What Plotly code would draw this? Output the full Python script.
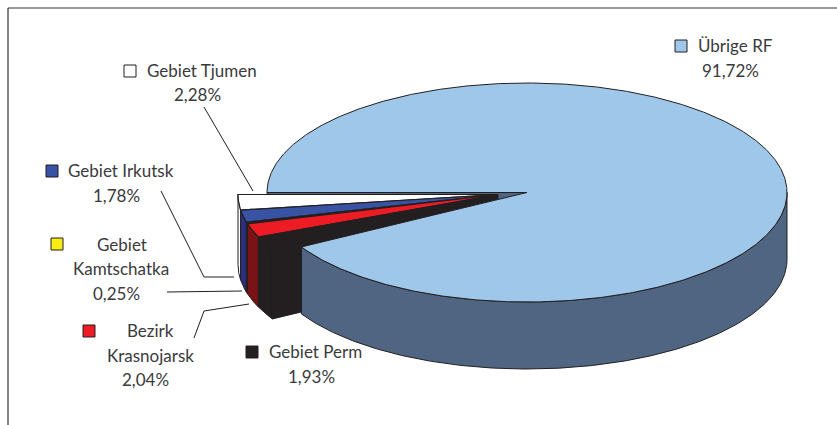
import numpy as np
import plotly.graph_objects as go

# Data (clockwise from the west edge of the pie)
regions = ["Übrige RF", "Gebiet Perm", "Bezirk Krasnojarsk", "Gebiet Kamtschatka", "Gebiet Irkutsk", "Gebiet Tjumen"]
shares = [91.72, 1.93, 2.04, 0.25, 1.78, 2.28]
share_labels = ["91,72%", "1,93%", "2,04%", "0,25%", "1,78%", "2,28%"]

# Styles
top_colors = ["#9FC7EA", "#231F20", "#ED1C24", "#F7EC13", "#3953A4", "#FFFFFF"]
side_colors = ["#4F6582", "#231F20", "#7A1315", "#7C7609", "#2A2F7E", "#FFFFFF"]
edge = "#231F20"
text_color = "#3A3A3C"
font = "Lato"
font_size = 17

# Geometry of the tilted pie, in page pixels
CX, CY, RX, RY, DEPTH = 527, 192.5, 260, 109.5, 67
EXPLODE_DX, EXPLODE_DY, EXPLODE_DEPTH = -29, 2, 70

# Label layout: (marker x, marker y, [(text, x centre, y centre), ...])
label_layout = {
    "Übrige RF": (681, 46, [("Übrige RF", 735, 46), ("{}", 730, 71)]),
    "Gebiet Tjumen": (130, 71, [("Gebiet Tjumen", 202, 71), ("{}", 197, 95)]),
    "Gebiet Irkutsk": (52, 171, [("Gebiet Irkutsk", 121, 171), ("{}", 116, 196)]),
    "Gebiet Kamtschatka": (57, 244, [("Gebiet", 122, 245), ("Kamtschatka", 121, 269), ("{}", 116, 294)]),
    "Bezirk Krasnojarsk": (89, 331, [("Bezirk", 150, 331), ("Krasnojarsk", 150, 356), ("{}", 145, 380)]),
    "Gebiet Perm": (252, 352, [("Gebiet Perm", 315, 352), ("{}", 311, 377)]),
}
leaders = [
    ([204, 253], [107, 191]),
    ([161, 204, 234], [191, 277, 277]),
    ([167, 242], [292, 291]),
    ([194, 204, 249], [338, 311, 304]),
]


def arc(cx, cy, a0, a1):
    t = np.radians(np.linspace(a0, a1, max(int(abs(a1 - a0)) * 2, 8)))
    return cx + RX * np.cos(t), cy + RY * np.sin(t)


def poly(fig, x, y, fill, width=1.0, line=edge):
    fig.add_trace(go.Scatter(x=list(x) + [x[0]], y=list(y) + [y[0]], mode="lines", fill="toself",
                             fillcolor=fill, line=dict(color=line, width=width), hoverinfo="skip"))


fig = go.Figure()

# slice angles
edges = 180 + np.cumsum([0] + shares) * 3.6
ex_cx, ex_cy = CX + EXPLODE_DX, CY + EXPLODE_DY

# Inner cut face of the main slice, seen through the gap
poly(fig, [CX - RX, CX - RX, CX, CX], [CY, CY + DEPTH, CY + DEPTH, CY], side_colors[0], 1.0)

# Exploded slices, back to front: west edge first
for i in range(len(shares) - 1, 0, -1):
    a0, a1 = edges[i], edges[i + 1]
    x, y = arc(ex_cx, ex_cy, a0, a1)
    # rim wall
    poly(fig, np.r_[x, x[::-1]], np.r_[y, (y + EXPLODE_DEPTH)[::-1]], side_colors[i], 1.0)

# front cut face of the first exploded slice
xf, yf = arc(ex_cx, ex_cy, edges[1], edges[1])
poly(fig, [xf[0], xf[0], ex_cx, ex_cx], [yf[0], yf[0] + EXPLODE_DEPTH, ex_cy + EXPLODE_DEPTH, ex_cy], side_colors[1], 1.0)

# Tops of the exploded slices
for i in range(len(shares) - 1, 0, -1):
    x, y = arc(ex_cx, ex_cy, edges[i], edges[i + 1])
    poly(fig, np.r_[ex_cx, x], np.r_[ex_cy, y], top_colors[i], 1.2)

# Main slice: wall of the near half, then top
x, y = arc(CX, CY, 360, edges[1])
poly(fig, np.r_[x, x[::-1]], np.r_[y, (y + DEPTH)[::-1]], side_colors[0], 1.0)
x, y = arc(CX, CY, edges[0], edges[1])
poly(fig, np.r_[CX, x], np.r_[CY, y], top_colors[0], 1.0)

# Leader lines
for lx, ly in leaders:
    fig.add_trace(go.Scatter(x=lx, y=ly, mode="lines", line=dict(color=edge, width=1), hoverinfo="skip"))

# Labels
annotations = []
for region, value, color in zip(regions, share_labels, top_colors):
    mx, my, lines = label_layout[region]
    fig.add_trace(go.Scatter(x=[mx], y=[my], mode="markers", hoverinfo="skip",
                             marker=dict(symbol="square", size=12, color=color, line=dict(color=edge, width=1))))
    for txt, tx, ty in lines:
        annotations.append(dict(x=tx, y=ty, yshift=1, text=txt.format(value), showarrow=False, xanchor="center",
                                yanchor="middle", font=dict(family=font, size=font_size, color=text_color)))

# Frame (open to the right and the bottom)
frame = [
    dict(type="line", x0=8, x1=8, y0=8, y1=425, line=dict(color="#333333", width=1.2)),
    dict(type="line", x0=8, x1=837, y0=8, y1=8, line=dict(color="#333333", width=1.2)),
]

fig.update_layout(
    width=837, height=425, margin=dict(l=0, r=0, t=0, b=0), showlegend=False,
    paper_bgcolor="white", plot_bgcolor="white", annotations=annotations, shapes=frame,
    xaxis=dict(range=[0, 837], visible=False, fixedrange=True),
    yaxis=dict(range=[425, 0], visible=False, fixedrange=True),
)
fig.write_html("out.html", config=dict(displayModeBar=False),
               post_script="document.body.style.margin='0';document.documentElement.style.overflow='hidden';")
